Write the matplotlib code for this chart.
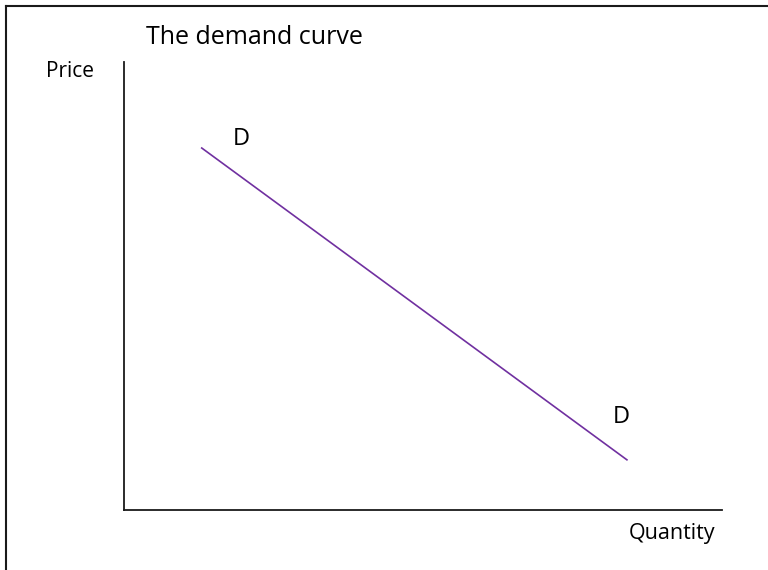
import matplotlib.pyplot as plt
from matplotlib.lines import Line2D

INK = "#1a1a1a"
PURPLE = "#7030A0"

plt.rcParams['font.family'] = ['Open Sans', 'DejaVu Sans']

# demand curve endpoints (axis units 0..10)
quantity = [1.3, 8.41]
price = [8.08, 1.12]
label_x = [1.97, 8.31]
label_y = [8.29, 2.08]
labels = ["D", "D"]

W, H = 768, 570
fig = plt.figure(figsize=(W / 100, H / 100), dpi=100)
fig.patch.set_facecolor("white")

ax = fig.add_axes([124 / W, 1 - 510 / H, (722 - 124) / W, (510 - 62) / H])
ax.set_xlim(0, 10)
ax.set_ylim(0, 10)
for s in ("top", "right"):
    ax.spines[s].set_visible(False)
ax.spines["left"].set_color(INK)
ax.spines["bottom"].set_color(INK)
ax.spines["left"].set_linewidth(1.3)
ax.spines["bottom"].set_linewidth(1.3)
ax.set_xticks([])
ax.set_yticks([])

ax.plot(quantity, price, color=PURPLE, linewidth=1.2)
for x, y, t in zip(label_x, label_y, labels):
    ax.text(x, y, t, ha="center", va="center", fontsize=17, color="black")

fig.text(254 / W, 1 - 37 / H, "The demand curve", ha="center", va="center",
         fontsize=18, color="black")
fig.text(70 / W, 1 - 72 / H, "Price", ha="center", va="center",
         fontsize=15, color="black")
fig.text(672 / W, 1 - 533 / H, "Quantity", ha="center", va="center",
         fontsize=15.5, color="black")

# outer frame (only top and left edges fall inside the picture)
fig.add_artist(Line2D([6 / W, 6 / W], [0, 1 - 6 / H], color=INK, linewidth=1.5,
                      transform=fig.transFigure))
fig.add_artist(Line2D([6 / W, 1], [1 - 6 / H, 1 - 6 / H], color=INK, linewidth=1.5,
                      transform=fig.transFigure))

fig.savefig("out.png", dpi=100, facecolor="white")
